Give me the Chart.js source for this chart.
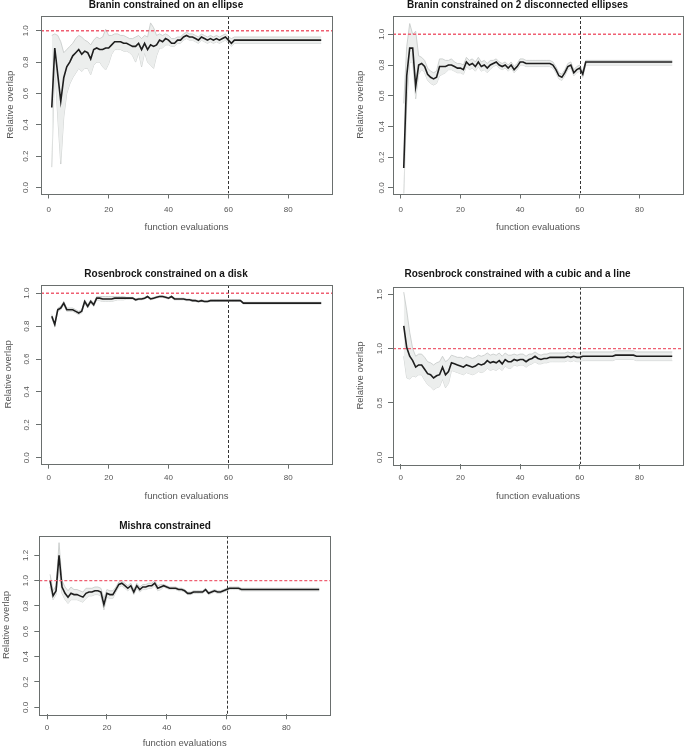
<!DOCTYPE html>
<html>
<head>
<meta charset="utf-8">
<script src="https://cdn.jsdelivr.net/npm/chart.js@4.4.0/dist/chart.umd.min.js"></script>
<style>
  body { margin: 0; background: #fff; }
  canvas { position: absolute; }
</style>
</head>
<body>
<canvas id="c1"></canvas>
<canvas id="c2"></canvas>
<canvas id="c3"></canvas>
<canvas id="c4"></canvas>
<canvas id="c5"></canvas>
<script>
// ---- data ----
const evals = [1,2,3,4,5,6,7,8,9,10,11,12,13,14,15,16,17,18,19,20,
  21,22,23,24,25,26,27,28,29,30,31,32,33,34,35,36,37,38,39,40,
  41,42,43,44,45,46,47,48,49,50,51,52,53,54,55,56,57,58,59,60];
const xTicks = [0, 20, 40, 60, 80];
const yTicks = [0, 0.2, 0.4, 0.6, 0.8, 1.0];
const yTicksWide = [0, 0.5, 1.0, 1.5];
const yTicksMishra = [0, 0.2, 0.4, 0.6, 0.8, 1.0, 1.2];
const targetOverlap = 1.0;
const budgetEvals = 60;

const titles = [
  "Branin constrained on an ellipse",
  "Branin constrained on 2 disconnected ellipses",
  "Rosenbrock constrained on a disk",
  "Rosenbrock constrained with a cubic and a line",
  "Mishra constrained"
];

// Branin, ellipse
const evals1 = evals.concat([61, 62, 91]);
const mean1 = [0.51,0.89,0.72,0.55,0.70,0.77,0.80,0.84,0.86,0.88,
  0.85,0.87,0.86,0.82,0.88,0.89,0.88,0.88,0.89,0.89,
  0.91,0.93,0.93,0.93,0.92,0.92,0.91,0.90,0.90,0.92,
  0.88,0.92,0.88,0.91,0.90,0.91,0.94,0.93,0.95,0.94,
  0.92,0.92,0.94,0.94,0.96,0.97,0.96,0.96,0.95,0.94,
  0.96,0.95,0.94,0.95,0.94,0.95,0.94,0.95,0.96,0.94,
  0.92,0.94, 0.94];
const upper1 = [0.97,0.98,0.97,0.93,0.86,0.88,0.90,0.92,0.95,0.97,
  0.96,0.94,0.93,0.91,0.94,0.96,0.95,0.96,1.01,0.97,
  0.97,0.98,0.98,0.97,0.97,0.96,0.95,0.95,0.96,0.97,
  0.95,0.97,0.96,1.05,1.02,0.97,0.98,0.97,0.98,0.97,
  0.95,0.95,0.96,0.96,0.98,0.99,0.98,0.98,0.97,0.96,
  0.98,0.97,0.96,0.97,0.96,0.97,0.96,0.97,0.98,0.96,
  0.95,0.96, 0.96];
const lower1 = [0.13,0.78,0.45,0.15,0.45,0.60,0.66,0.70,0.73,0.76,
  0.74,0.76,0.76,0.72,0.78,0.80,0.80,0.77,0.75,0.79,
  0.85,0.88,0.88,0.88,0.87,0.87,0.86,0.84,0.80,0.86,
  0.77,0.86,0.80,0.78,0.76,0.84,0.89,0.89,0.91,0.91,
  0.90,0.90,0.92,0.92,0.94,0.95,0.94,0.94,0.93,0.92,
  0.94,0.93,0.92,0.93,0.92,0.93,0.92,0.93,0.94,0.92,
  0.90,0.92, 0.92];

// Branin, 2 ellipses
const evals2 = evals.concat([61, 62, 91]);
const mean2 = [0.13,0.73,0.91,0.91,0.66,0.80,0.81,0.79,0.74,0.72,
  0.71,0.72,0.79,0.79,0.79,0.80,0.80,0.79,0.78,0.78,
  0.77,0.82,0.80,0.81,0.79,0.82,0.79,0.80,0.78,0.80,
  0.81,0.82,0.80,0.79,0.80,0.78,0.80,0.77,0.79,0.82,
  0.82,0.81,0.81,0.81,0.81,0.81,0.81,0.81,0.81,0.81,
  0.80,0.77,0.73,0.72,0.75,0.79,0.80,0.75,0.77,0.78,
  0.74,0.82, 0.82];
const upper2 = [0.55,0.92,1.07,1.00,1.02,0.86,0.85,0.83,0.78,0.76,
  0.75,0.76,0.84,0.84,0.83,0.83,0.84,0.82,0.81,0.81,
  0.80,0.85,0.83,0.84,0.82,0.85,0.82,0.83,0.81,0.83,
  0.83,0.84,0.82,0.81,0.82,0.80,0.82,0.79,0.81,0.84,
  0.84,0.83,0.83,0.83,0.83,0.83,0.83,0.83,0.83,0.83,
  0.82,0.79,0.75,0.74,0.77,0.81,0.82,0.77,0.79,0.80,
  0.76,0.83, 0.83];
const lower2 = [-0.05,0.55,0.82,0.82,0.58,0.74,0.77,0.75,0.70,0.68,
  0.67,0.68,0.73,0.74,0.75,0.77,0.77,0.76,0.75,0.75,
  0.74,0.79,0.77,0.78,0.76,0.79,0.76,0.77,0.75,0.77,
  0.79,0.80,0.78,0.77,0.78,0.76,0.78,0.75,0.77,0.80,
  0.80,0.79,0.79,0.79,0.79,0.79,0.79,0.79,0.79,0.79,
  0.78,0.75,0.71,0.70,0.73,0.77,0.78,0.73,0.75,0.76,
  0.72,0.80, 0.80];

// Rosenbrock, disk
const evals3 = evals.concat([61, 62, 63, 64, 65, 91]);
const mean3 = [0.86,0.81,0.90,0.91,0.94,0.90,0.90,0.90,0.89,0.88,
  0.89,0.95,0.92,0.95,0.93,0.97,0.97,0.965,0.965,0.965,
  0.965,0.97,0.97,0.97,0.97,0.97,0.97,0.97,0.96,0.965,
  0.965,0.97,0.98,0.965,0.97,0.975,0.98,0.98,0.975,0.97,
  0.98,0.965,0.965,0.965,0.965,0.96,0.96,0.955,0.955,0.95,
  0.955,0.95,0.95,0.955,0.955,0.955,0.955,0.955,0.955,0.955,
  0.955,0.955,0.955,0.955,0.94, 0.94];
const upper3 = [0.87,0.82,0.91,0.92,0.95,0.91,0.91,0.91,0.90,0.89,
  0.90,0.96,0.93,0.96,0.94,0.98,0.98,0.98,0.98,0.98,
  0.98,0.98,0.98,0.98,0.98,0.975,0.975,0.975,0.965,0.97,
  0.97,0.975,0.985,0.97,0.975,0.98,0.985,0.985,0.98,0.975,
  0.985,0.97,0.97,0.97,0.97,0.965,0.965,0.96,0.96,0.955,
  0.96,0.955,0.955,0.96,0.96,0.96,0.96,0.96,0.96,0.96,
  0.96,0.96,0.96,0.96,0.945, 0.945];
const lower3 = [0.85,0.80,0.89,0.90,0.93,0.89,0.89,0.89,0.88,0.87,
  0.88,0.94,0.91,0.94,0.92,0.96,0.955,0.95,0.95,0.95,
  0.95,0.955,0.96,0.96,0.96,0.965,0.965,0.965,0.955,0.96,
  0.96,0.965,0.975,0.96,0.965,0.97,0.975,0.975,0.97,0.965,
  0.975,0.96,0.96,0.96,0.96,0.955,0.955,0.95,0.95,0.945,
  0.95,0.945,0.945,0.95,0.95,0.95,0.95,0.95,0.95,0.95,
  0.95,0.95,0.95,0.95,0.935, 0.935];

// Rosenbrock, cubic and line
const evals4 = evals.concat([61, 62, 71, 72, 78, 79, 91]);
const mean4 = [1.21,1.01,0.93,0.89,0.83,0.85,0.85,0.81,0.77,0.76,
  0.73,0.75,0.76,0.83,0.76,0.79,0.87,0.86,0.85,0.84,
  0.83,0.85,0.84,0.83,0.84,0.86,0.85,0.86,0.89,0.87,
  0.88,0.87,0.89,0.86,0.90,0.88,0.88,0.90,0.89,0.90,
  0.90,0.88,0.90,0.91,0.93,0.91,0.90,0.91,0.91,0.92,
  0.92,0.92,0.92,0.92,0.92,0.93,0.92,0.93,0.92,0.92,
  0.93,0.93, 0.93,0.94,0.94,0.93,0.93];
const upper4 = [1.52,1.35,1.15,1.00,0.93,0.95,0.95,0.92,0.88,0.87,
  0.85,0.87,0.88,0.93,0.88,0.90,0.94,0.93,0.92,0.92,
  0.91,0.93,0.92,0.91,0.92,0.94,0.93,0.94,0.96,0.94,
  0.95,0.94,0.96,0.93,0.96,0.94,0.94,0.95,0.94,0.95,
  0.95,0.93,0.95,0.95,0.97,0.95,0.94,0.95,0.95,0.96,
  0.96,0.96,0.96,0.96,0.96,0.97,0.96,0.97,0.96,0.96,
  0.97,0.97, 0.97,0.98,0.98,0.97,0.97];
const lower4 = [0.93,0.73,0.72,0.75,0.74,0.76,0.76,0.71,0.67,0.65,
  0.62,0.64,0.65,0.72,0.64,0.68,0.80,0.79,0.78,0.77,
  0.76,0.78,0.77,0.76,0.77,0.79,0.78,0.79,0.82,0.80,
  0.81,0.80,0.82,0.80,0.84,0.82,0.82,0.85,0.84,0.85,
  0.85,0.83,0.85,0.86,0.88,0.86,0.86,0.87,0.87,0.88,
  0.88,0.88,0.88,0.88,0.88,0.89,0.88,0.89,0.88,0.88,
  0.89,0.89, 0.89,0.90,0.90,0.89,0.89];

// Mishra
const evals5 = evals.concat([61, 62, 63, 64, 65, 91]);
const mean5 = [1.00,0.88,0.92,1.20,0.95,0.90,0.87,0.90,0.89,0.89,
  0.88,0.87,0.90,0.91,0.91,0.92,0.92,0.91,0.81,0.90,
  0.89,0.89,0.93,0.97,0.98,0.96,0.94,0.96,0.91,0.96,
  0.93,0.95,0.95,0.96,0.96,0.98,0.94,0.95,0.96,0.95,
  0.94,0.94,0.94,0.93,0.93,0.92,0.90,0.90,0.91,0.91,
  0.91,0.91,0.93,0.90,0.91,0.92,0.91,0.91,0.92,0.93,
  0.94,0.94,0.94,0.94,0.93, 0.93];
const upper5 = [1.05,0.92,0.96,1.30,1.00,0.95,0.92,0.95,0.93,0.93,
  0.92,0.91,0.94,0.94,0.94,0.95,0.95,0.94,0.86,0.93,
  0.92,0.92,0.95,0.99,1.00,0.98,0.96,0.98,0.93,0.98,
  0.95,0.97,0.97,0.98,0.98,1.00,0.96,0.97,0.97,0.96,
  0.95,0.95,0.95,0.94,0.94,0.93,0.91,0.91,0.92,0.92,
  0.92,0.92,0.94,0.91,0.92,0.93,0.92,0.92,0.93,0.94,
  0.95,0.95,0.95,0.95,0.94, 0.94];
const lower5 = [0.95,0.85,0.89,1.10,0.90,0.85,0.82,0.85,0.85,0.85,
  0.84,0.83,0.86,0.88,0.88,0.89,0.89,0.88,0.77,0.87,
  0.86,0.86,0.91,0.95,0.96,0.94,0.92,0.94,0.89,0.94,
  0.91,0.93,0.93,0.94,0.94,0.96,0.92,0.93,0.95,0.94,
  0.93,0.93,0.93,0.92,0.92,0.91,0.89,0.89,0.90,0.90,
  0.90,0.90,0.92,0.89,0.90,0.91,0.90,0.90,0.91,0.92,
  0.93,0.93,0.93,0.93,0.92, 0.92];

// ---- drawing ----
Chart.defaults.font.family = "'Liberation Sans', Arial, sans-serif";

const TICK = 8, LAB = 9.5, TTL = 10;

// target line at 1 and budget line at 60
const refLines = {
  id: 'refLines',
  afterDatasetsDraw(chart) {
    const { ctx, chartArea: a, scales: { x, y } } = chart;
    ctx.save();
    ctx.beginPath();
    ctx.rect(a.left, a.top, a.width, a.height);
    ctx.clip();
    const yp = y.getPixelForValue(targetOverlap);
    ctx.strokeStyle = '#ef5f72';
    ctx.lineWidth = 1.4;
    ctx.setLineDash([3, 2]);
    ctx.beginPath();
    ctx.moveTo(a.left, yp);
    ctx.lineTo(a.right, yp);
    ctx.stroke();
    const xp = Math.round(x.getPixelForValue(budgetEvals)) + 0.5;
    ctx.strokeStyle = '#333';
    ctx.lineWidth = 1;
    ctx.setLineDash([3, 2]);
    ctx.beginPath();
    ctx.moveTo(xp, a.top);
    ctx.lineTo(xp, a.bottom);
    ctx.stroke();
    ctx.restore();
  }
};

// R style box round the plot region
const plotBox = {
  id: 'plotBox',
  afterDraw(chart) {
    const { ctx, chartArea: a } = chart;
    ctx.save();
    ctx.strokeStyle = '#6a6f6e';
    ctx.lineWidth = 1;
    ctx.strokeRect(Math.round(a.left) + 0.5, Math.round(a.top) + 0.5,
      Math.round(a.width), Math.round(a.height));
    ctx.restore();
  }
};

function pts(xs, ys) {
  return xs.map((x, i) => ({ x: x, y: ys[i] }));
}

function makePanel(id, p) {
  const cv = document.getElementById(id);
  cv.width = p.w;
  cv.height = p.h;
  cv.style.left = p.left + 'px';
  cv.style.top = p.top + 'px';
  cv.style.width = p.w + 'px';
  cv.style.height = p.h + 'px';

  const L = p.box[0] - p.left, T = p.box[1] - p.top;
  const R = p.box[2] - p.left, B = p.box[3] - p.top;
  const titleTop = p.titleY - p.top - TTL / 2;
  const tickW = TICK * 1.39;

  return new Chart(cv.getContext('2d'), {
    type: 'line',
    data: {
      datasets: [
        {
          data: pts(p.xs, p.mean),
          borderColor: '#1e1e1e',
          borderWidth: 1.6,
          pointRadius: 0,
          tension: 0,
          fill: false,
          order: 0
        },
        {
          data: pts(p.xs, p.upper),
          borderColor: '#c4c8c7',
          borderWidth: 0.8,
          backgroundColor: '#eceeed',
          pointRadius: 0,
          fill: '+1',
          order: 1
        },
        {
          data: pts(p.xs, p.lower),
          borderColor: '#c4c8c7',
          borderWidth: 0.8,
          pointRadius: 0,
          fill: false,
          order: 2
        }
      ]
    },
    options: {
      responsive: false,
      animation: false,
      events: [],
      layout: { padding: { left: 0, top: 0, bottom: 0, right: p.w - R } },
      plugins: {
        legend: { display: false },
        tooltip: { enabled: false },
        title: {
          display: true,
          text: p.title,
          color: '#151515',
          font: { size: TTL, weight: 'bold', lineHeight: 1 },
          padding: { top: titleTop, bottom: T - TTL - titleTop }
        }
      },
      scales: {
        x: {
          type: 'linear',
          min: -2.6,
          max: 94.6,
          bounds: 'data',
          afterBuildTicks: s => { s.ticks = xTicks.map(v => ({ value: v })); },
          afterFit: s => { s.height = p.h - B; },
          grid: { drawOnChartArea: false, drawTicks: true, tickLength: 5, tickColor: '#6a6f6e' },
          border: { display: false },
          ticks: {
            color: '#555',
            font: { size: TICK, lineHeight: 1 },
            maxRotation: 0,
            padding: p.xTickY - p.top - B - 5 - TICK / 2,
            callback: v => String(v)
          },
          title: {
            display: true,
            text: 'function evaluations',
            color: '#555',
            font: { size: LAB, lineHeight: 1 },
            padding: { top: 0, bottom: p.h - (p.xTitleY - p.top) - LAB / 2 }
          }
        },
        y: {
          type: 'linear',
          min: p.ymin,
          max: p.ymax,
          bounds: 'data',
          afterBuildTicks: s => { s.ticks = p.yt.map(v => ({ value: v })); },
          afterFit: s => { s.width = L; },
          grid: { drawOnChartArea: false, drawTicks: true, tickLength: 5, tickColor: '#6a6f6e' },
          border: { display: false },
          ticks: {
            color: '#555',
            font: { size: TICK, lineHeight: 1 },
            minRotation: 90,
            maxRotation: 90,
            crossAlign: 'center',
            padding: L - 5 - tickW / 2 - (p.yTickX - p.left),
            callback: v => v.toFixed(1)
          },
          title: {
            display: true,
            text: 'Relative overlap',
            color: '#555',
            font: { size: LAB, lineHeight: 1 },
            padding: { top: p.yTitleX - p.left - LAB / 2, bottom: 0 }
          }
        }
      }
    },
    plugins: [refLines, plotBox]
  });
}

makePanel('c1', {
  title: titles[0], xs: evals1, mean: mean1, upper: upper1, lower: lower1,
  left: 0, top: 0, w: 342, h: 240, box: [41, 16, 332, 193.5],
  ymin: -0.038, ymax: 1.094, yt: yTicks,
  titleY: 5, xTickY: 209.3, xTitleY: 227.7, yTickX: 25.7, yTitleX: 10
});
makePanel('c2', {
  title: titles[1], xs: evals2, mean: mean2, upper: upper2, lower: lower2,
  left: 352, top: 0, w: 333, h: 240, box: [393, 16, 683, 193.5],
  ymin: -0.036, ymax: 1.119, yt: yTicks,
  titleY: 5, xTickY: 209.3, xTitleY: 227.7, yTickX: 381.7, yTitleX: 360.7
});
makePanel('c3', {
  title: titles[2], xs: evals3, mean: mean3, upper: upper3, lower: lower3,
  left: 0, top: 250, w: 342, h: 255, box: [41, 285, 332, 463.7],
  ymin: -0.036, ymax: 1.05, yt: yTicks,
  titleY: 274.3, xTickY: 478, xTitleY: 496, yTickX: 27, yTitleX: 8
});
makePanel('c4', {
  title: titles[3], xs: evals4, mean: mean4, upper: upper4, lower: lower4,
  left: 352, top: 250, w: 333, h: 255, box: [393, 286.7, 683, 464.3],
  ymin: -0.064, ymax: 1.57, yt: yTicksWide,
  titleY: 274.3, xTickY: 478, xTitleY: 496, yTickX: 380, yTitleX: 360.7
});
makePanel('c5', {
  title: titles[4], xs: evals5, mean: mean5, upper: upper5, lower: lower5,
  left: 0, top: 505, w: 342, h: 243, box: [39.3, 535.7, 330, 714.3],
  ymin: -0.055, ymax: 1.355, yt: yTicksMishra,
  titleY: 526, xTickY: 727.7, xTitleY: 743.5, yTickX: 25.3, yTitleX: 6.5
});
</script>
</body>
</html>
